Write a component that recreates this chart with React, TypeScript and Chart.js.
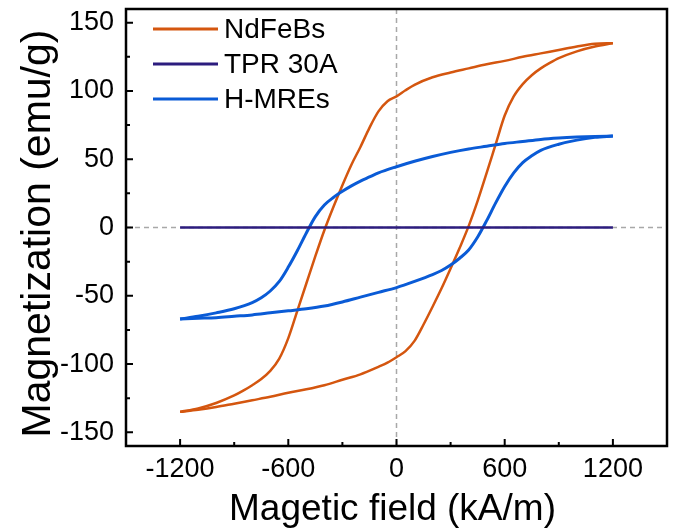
import React, { useEffect, useRef } from 'react';
import { Chart, registerables } from 'chart.js';

Chart.register(...registerables);

const FONT = "'Liberation Sans', Arial, Helvetica, sans-serif";

const seriesNames = ['NdFeBs', 'TPR 30A', 'H-MREs'];
const seriesColors = ['#D4560F', '#2C1C7E', '#0A5BD6'];

// NdFeBs hysteresis loop: descending branch (+1200 -> -1200)
const ndfebDownH = [1200, 1100, 1000, 900, 800, 700, 600, 500, 400, 300, 200, 100, 50, 0, -50, -100, -150, -200, -250, -300, -350, -400, -450, -500, -550, -600, -650, -700, -750, -800, -850, -900, -1000, -1100, -1200];
const ndfebDownM = [135, 134.5, 132.5, 130, 127.5, 125, 122, 119.5, 116.5, 113.5, 110, 104.5, 100.5, 96, 92.5, 85, 73, 59, 46, 31, 15, -2, -21, -41, -61, -81, -96, -105, -111, -115.5, -119.5, -123, -128.5, -132.5, -135];
// NdFeBs ascending branch (-1200 -> +1200)
const ndfebUpH = [-1200, -1100, -1000, -900, -800, -700, -600, -500, -400, -300, -200, -100, -50, 0, 50, 100, 150, 200, 250, 300, 350, 400, 450, 500, 550, 600, 650, 700, 750, 800, 850, 900, 1000, 1100, 1200];
const ndfebUpM = [-135, -133.5, -131.5, -129, -126.5, -124, -121, -118.5, -115.5, -111.5, -107.5, -102, -99, -95, -90.5, -83, -71, -58, -44.5, -30, -15, 1, 19.5, 40, 61, 82, 96, 105, 111.5, 116.5, 120.5, 124, 129, 132.5, 135];

// TPR 30A
const tprH = [-1200, -600, 0, 600, 1200];
const tprM = [0, 0, 0, 0, 0];

// H-MREs loop: descending branch
const hmreDownH = [1200, 1100, 1000, 900, 800, 700, 600, 500, 400, 300, 200, 100, 0, -100, -150, -200, -250, -300, -350, -400, -450, -500, -550, -600, -650, -700, -750, -800, -900, -1000, -1100, -1200];
const hmreDownM = [67, 66.7, 66.2, 65.5, 64.5, 63, 61.5, 59.5, 57.5, 55, 52, 48.5, 44.5, 40, 37, 34, 30.5, 26.5, 22, 16.5, 8, -4, -17, -29, -39.5, -46.5, -51.5, -55, -59.5, -62.5, -65, -67];
// H-MREs ascending branch
const hmreUpH = [-1200, -1100, -1000, -900, -800, -700, -600, -500, -400, -300, -200, -100, 0, 100, 200, 250, 300, 350, 400, 450, 500, 550, 600, 650, 700, 750, 800, 900, 1000, 1100, 1200];
const hmreUpM = [-67, -66.5, -66, -65, -64, -62.5, -61, -59.5, -57.5, -54.5, -51, -47.5, -44, -39.5, -34.5, -31.5, -27.5, -22.5, -16.5, -7, 5, 18, 30, 40, 47.5, 52.5, 56.5, 61, 64, 66, 67];

const xMajorTicks = [-1200, -600, 0, 600, 1200];
const xMinorTicks = [-900, -300, 300, 900];
const yMajorTicks = [-150, -100, -50, 0, 50, 100, 150];
const yMinorTicks = [-125, -75, -25, 25, 75, 125];
const xTitle = 'Magetic field (kA/m)';
const yTitle = 'Magnetization (emu/g)';

const pts = (hs: number[], ms: number[]) =>
  hs.map((h, i) => ({ x: h, y: ms[i] })).sort((a, b) => a.x - b.x);

const decorPlugin = {
  id: 'decor',
  beforeDatasetsDraw(chart: any) {
    const { ctx, chartArea: a, scales } = chart;
    const x0 = scales.x.getPixelForValue(0);
    const y0 = scales.y.getPixelForValue(0);
    ctx.save();
    ctx.strokeStyle = '#A8A8A8';
    ctx.lineWidth = 1.5;
    ctx.setLineDash([5, 4]);
    ctx.beginPath();
    ctx.moveTo(x0, a.top);
    ctx.lineTo(x0, a.bottom);
    ctx.moveTo(a.left, y0);
    ctx.lineTo(a.right, y0);
    ctx.stroke();
    ctx.restore();
  },
  afterDatasetsDraw(chart: any) {
    const { ctx, chartArea: a, scales } = chart;
    ctx.save();
    ctx.strokeStyle = '#000';
    ctx.lineWidth = 2.5;
    ctx.strokeRect(a.left, a.top, a.right - a.left, a.bottom - a.top);
    ctx.lineWidth = 2;
    ctx.beginPath();
    xMajorTicks.forEach((v) => {
      const px = scales.x.getPixelForValue(v);
      ctx.moveTo(px, a.bottom);
      ctx.lineTo(px, a.bottom - 7);
    });
    xMinorTicks.forEach((v) => {
      const px = scales.x.getPixelForValue(v);
      ctx.moveTo(px, a.bottom);
      ctx.lineTo(px, a.bottom - 4);
    });
    yMajorTicks.forEach((v) => {
      const py = scales.y.getPixelForValue(v);
      ctx.moveTo(a.left, py);
      ctx.lineTo(a.left + 7, py);
    });
    yMinorTicks.forEach((v) => {
      const py = scales.y.getPixelForValue(v);
      ctx.moveTo(a.left, py);
      ctx.lineTo(a.left + 4, py);
    });
    ctx.stroke();

    // legend
    ctx.font = `28px ${FONT}`;
    ctx.textBaseline = 'middle';
    ctx.textAlign = 'left';
    seriesNames.forEach((name, i) => {
      const y = a.top + 20 + i * 35;
      ctx.strokeStyle = seriesColors[i];
      ctx.lineWidth = 3;
      ctx.beginPath();
      ctx.moveTo(a.left + 27, y);
      ctx.lineTo(a.left + 92, y);
      ctx.stroke();
      ctx.fillStyle = '#000';
      ctx.fillText(name, a.left + 98, y + 1);
    });

    // axis titles
    ctx.fillStyle = '#000';
    ctx.textAlign = 'center';
    ctx.textBaseline = 'alphabetic';
    ctx.font = `37px ${FONT}`;
    ctx.fillText(xTitle, (a.left + a.right) / 2 - 4, 520);
    ctx.save();
    ctx.translate(50, (a.top + a.bottom) / 2 + 6);
    ctx.rotate(-Math.PI / 2);
    ctx.font = `41px ${FONT}`;
    ctx.fillText(yTitle, 0, 0);
    ctx.restore();
    ctx.restore();
  },
};

const lineDs = (label: string, data: any[], color: string, width: number, order: number) => ({
  label,
  data,
  borderColor: color,
  borderWidth: width,
  showLine: true,
  pointRadius: 0,
  cubicInterpolationMode: 'monotone',
  order,
});

export default function App() {
  const ref = useRef<HTMLCanvasElement>(null);
  useEffect(() => {
    if (!ref.current) return;
    const chart = new Chart(ref.current, {
      type: 'scatter',
      data: {
        datasets: [
          lineDs(seriesNames[0], pts(ndfebDownH, ndfebDownM), seriesColors[0], 2.5, 2),
          lineDs(seriesNames[0], pts(ndfebUpH, ndfebUpM), seriesColors[0], 2.5, 2),
          lineDs(seriesNames[1], pts(tprH, tprM), seriesColors[1], 2.5, 0),
          lineDs(seriesNames[2], pts(hmreDownH, hmreDownM), seriesColors[2], 3, 1),
          lineDs(seriesNames[2], pts(hmreUpH, hmreUpM), seriesColors[2], 3, 1),
        ],
      },
      options: {
        animation: false,
        responsive: true,
        maintainAspectRatio: false,
        layout: { autoPadding: false, padding: { top: 9, right: 6, left: 0, bottom: 0 } },
        plugins: { legend: { display: false }, tooltip: { enabled: false } },
        scales: {
          x: {
            type: 'linear',
            min: -1500,
            max: 1500,
            afterBuildTicks: (s: any) => {
              s.ticks = xMajorTicks.map((v) => ({ value: v }));
            },
            afterFit: (s: any) => {
              s.height = 84;
              s.paddingLeft = 0;
              s.paddingRight = 0;
              s.paddingTop = 0;
              s.paddingBottom = 0;
            },
            ticks: {
              font: { family: FONT, size: 27 },
              color: '#000',
              padding: 7,
              maxRotation: 0,
              autoSkip: false,
              callback: (v: any) => String(v),
            },
            grid: { display: false, drawTicks: false },
            border: { display: false },
            title: { display: false, text: xTitle },
          },
          y: {
            type: 'linear',
            min: -160,
            max: 160,
            afterBuildTicks: (s: any) => {
              s.ticks = yMajorTicks.map((v) => ({ value: v }));
            },
            afterFit: (s: any) => {
              s.width = 126;
              s.paddingLeft = 0;
              s.paddingRight = 0;
              s.paddingTop = 0;
              s.paddingBottom = 0;
            },
            ticks: {
              font: { family: FONT, size: 27 },
              color: '#000',
              padding: 12,
              autoSkip: false,
              callback: (v: any) => String(v),
            },
            grid: { display: false, drawTicks: false },
            border: { display: false },
            title: { display: false, text: yTitle },
          },
        },
      },
      plugins: [decorPlugin],
    } as any);
    return () => chart.destroy();
  }, []);

  return (
    <div style={{ position: 'absolute', left: 0, top: 0, width: 673, height: 530, background: '#fff' }}>
      <canvas ref={ref} />
    </div>
  );
}
